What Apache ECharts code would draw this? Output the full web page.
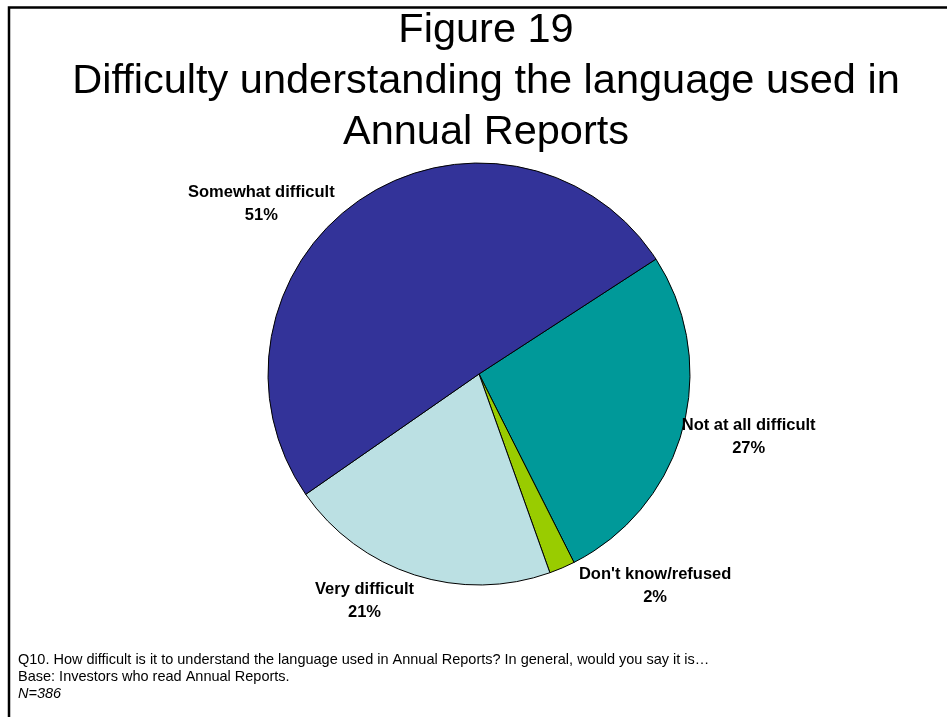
<!DOCTYPE html>
<html>
<head>
<meta charset="utf-8">
<title>Figure 19</title>
<script src="https://cdn.jsdelivr.net/npm/echarts@6/dist/echarts.min.js"></script>
<style>
  html, body { margin: 0; padding: 0; background: #ffffff; }
  #chart { width: 947px; height: 717px; }
</style>
</head>
<body>
<div id="chart"></div>
<script>
// Survey answers, in clockwise order starting at the upper-right boundary
const categories = ['Not at all difficult', "Don't know/refused", 'Very difficult', 'Somewhat difficult'];
const shares = [27, 2, 21, 51];

const titleLines = ['Figure 19', 'Difficulty understanding the language used in', 'Annual Reports'];
const footnotes = [
  'Q10. How difficult is it to understand the language used in Annual Reports? In general, would you say it is\u2026',
  'Base: Investors who read Annual Reports.',
  'N=386'
];

// Styling
const sliceColors = ['#009999', '#99CC00', '#BBE0E3', '#333399'];
const pieCenter = [479, 374];
const pieRadius = 211;
const pieStart = 33;
// offset of each label centre from the rim point at its slice's middle angle
const labelNudge = [[66, 8], [93, 18], [-50, 26], [-100, 5]];

const FONT = '"Liberation Sans", Arial, Helvetica, sans-serif';

const chart = echarts.init(document.getElementById('chart'), null, { renderer: 'canvas' });

const total = shares.reduce((a, b) => a + b, 0);
const midAngles = [];
let acc = 0;
shares.forEach(v => {
  midAngles.push(pieStart - (acc + v / 2) / total * 360);
  acc += v;
});

const graphics = [];
// frame along the top and left edges
graphics.push({
  type: 'polyline',
  silent: true,
  shape: { points: [[9, 717], [9, 7.5], [947, 7.5]] },
  style: { stroke: '#000', lineWidth: 2.5, fill: null }
});
titleLines.forEach((t, i) => {
  graphics.push({
    type: 'text',
    silent: true,
    x: 486,
    y: 31 + i * 51,
    style: {
      text: t,
      font: '41.5px ' + FONT,
      fill: '#000',
      align: 'center',
      verticalAlign: 'middle'
    }
  });
});
footnotes.forEach((t, i) => {
  graphics.push({
    type: 'text',
    silent: true,
    x: 18,
    y: 660 + i * 17,
    style: {
      text: t,
      font: (i === 2 ? 'italic ' : '') + '14.5px ' + FONT,
      fill: '#000',
      align: 'left',
      verticalAlign: 'middle'
    }
  });
});

chart.setOption({
  animation: false,
  backgroundColor: '#ffffff',
  graphic: graphics,
  series: [{
    type: 'pie',
    center: pieCenter,
    radius: pieRadius,
    startAngle: pieStart,
    clockwise: true,
    avoidLabelOverlap: false,
    silent: true,
    data: categories.map((name, i) => ({
      name: name,
      value: shares[i],
      itemStyle: { color: sliceColors[i] }
    })),
    itemStyle: { borderColor: '#000', borderWidth: 1 },
    label: {
      show: true,
      position: 'outside',
      formatter: '{b}\n{c}%',
      fontFamily: FONT,
      fontSize: 16.5,
      fontWeight: 'bold',
      color: '#000',
      lineHeight: 23,
      align: 'center'
    },
    labelLine: { show: false },
    labelLayout: function (params) {
      const i = params.dataIndex;
      const a = midAngles[i] * Math.PI / 180;
      const ex = pieCenter[0] + pieRadius * Math.cos(a);
      const ey = pieCenter[1] - pieRadius * Math.sin(a);
      return {
        x: ex + labelNudge[i][0],
        y: ey + labelNudge[i][1],
        align: 'center',
        verticalAlign: 'middle'
      };
    }
  }]
});
</script>
</body>
</html>
